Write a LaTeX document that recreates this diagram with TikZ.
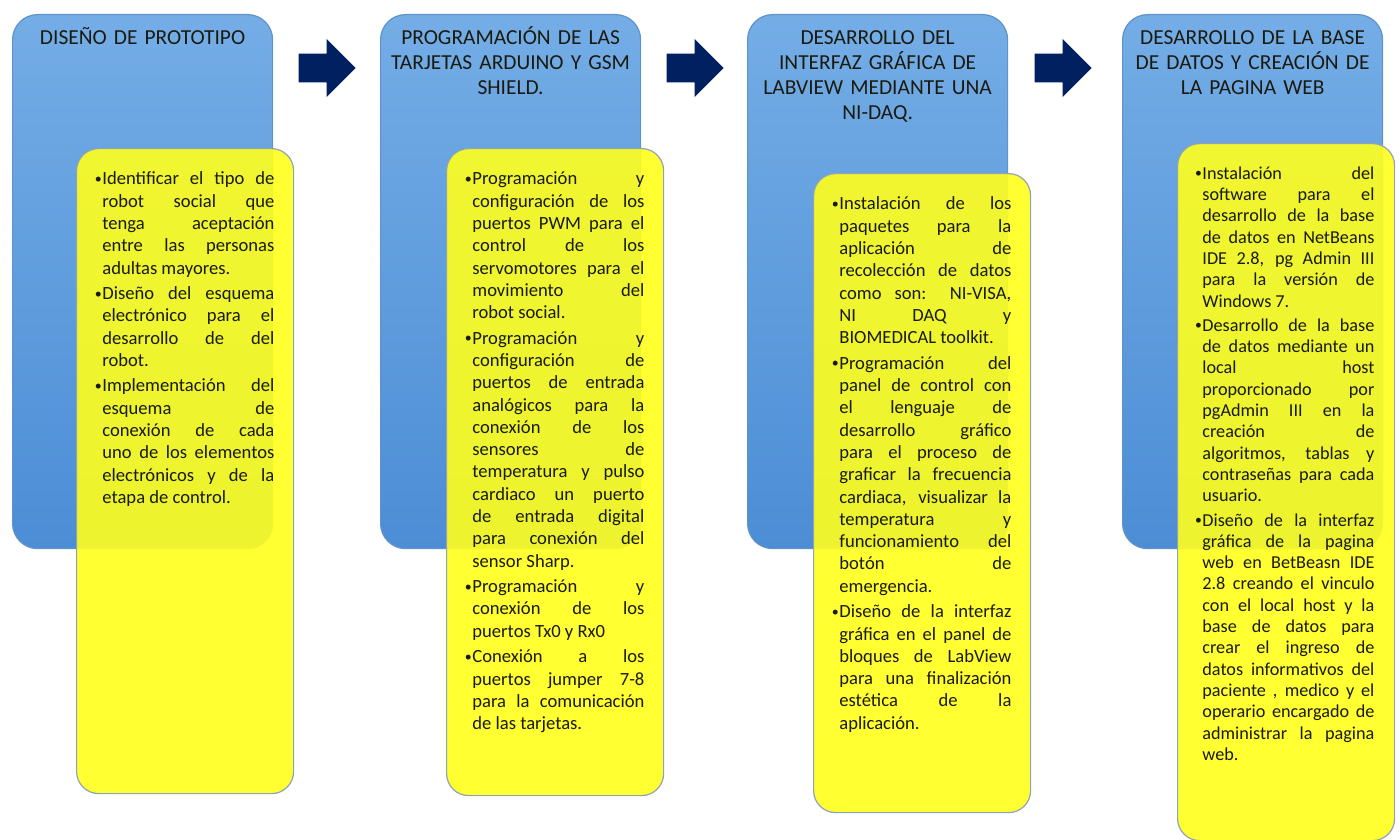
\documentclass[tikz,border=0pt]{standalone}
\usepackage{fontspec}
\setmainfont{Carlito}
\usetikzlibrary{positioning}
\usetikzlibrary{calc}
\usetikzlibrary{shapes.arrows}

\definecolor{fasetop}{HTML}{74ADE6}
\definecolor{fasebot}{HTML}{4C8DD5}
\definecolor{faseedge}{HTML}{5F93C9}
\definecolor{notafill}{HTML}{FFFF1C}
\definecolor{notaedge}{HTML}{8FA3B8}
\definecolor{navy}{HTML}{002060}
\definecolor{tinta}{HTML}{1A1A10}

\hbadness=10000
% line break that keeps the justification
\newcommand{\salto}{\linebreak}
\newcommand{\punto}{\par\noindent\hangindent=4pt\hangafter=1%
	\makebox[4pt][c]{\raisebox{0.7pt}{\scalebox{0.75}{•}}}}

\tikzset{
	fasebox/.style={draw=faseedge, line width=0.6pt, rounded corners=12.5pt,
			top color=fasetop, bottom color=fasebot, inner sep=0pt,
			minimum width=130pt, minimum height=267pt, anchor=north west},
	titulo/.style={text width=120pt, align=center, inner sep=0pt, text=tinta,
			font=\fontsize{10.7}{12.5}\selectfont},
	notabox/.style={draw=notaedge, line width=0.6pt, rounded corners=11pt,
			fill=notafill, fill opacity=0.9, inner sep=0pt,
			minimum width=108.5pt, anchor=north west},
	notatexto/.style={text width=90pt, align=justify, inner sep=0pt, text=tinta,
			font=\fontsize{9.3}{11.15}\selectfont,
			execute at begin node={\setlength{\parskip}{1.6pt}}},
	flecha/.style={single arrow, fill=navy, draw=none, inner sep=7pt, anchor=tail,
			minimum height=28.5pt, minimum width=29pt,
			single arrow head extend=7.25pt, single arrow head indent=0pt}
}

\begin{document}
\begin{tikzpicture}[x=0.5pt, y=-0.5pt]
	\useasboundingbox (0,0) rectangle (1400,839);

	% phases
	\node[fasebox] (fase1) at (12,14) {};
	\node[fasebox] (fase2) at (380,14) {};
	\node[fasebox] (fase3) at (747,14) {};
	\node[fasebox] (fase4) at (1122,14) {};

	\node[titulo, below=6.25pt of fase1.north] (tit1) {\rule{0pt}{9pt}DISEÑO DE PROTOTIPO};
	\node[titulo, below=6.25pt of fase2.north] (tit2) {\rule{0pt}{9pt}PROGRAMACIÓN DE LAS\\ TARJETAS ARDUINO Y GSM\\ SHIELD.};
	\node[titulo, below=6.25pt of fase3.north] (tit3) {\rule{0pt}{9pt}DESARROLLO DEL\\ INTERFAZ GRÁFICA DE\\ LABVIEW MEDIANTE UNA\\ NI-DAQ.};
	\node[titulo, below=6.25pt of fase4.north] (tit4) {\rule{0pt}{9pt}DESARROLLO DE LA BASE\\ DE DATOS Y CREACIÓN DE\\ LA PAGINA WEB};

	% arrows between phases
	\node[flecha] (flecha1) at ($(fase1.north east)+(25,54)$) {};
	\node[flecha] (flecha2) at ($(fase2.north east)+(25,54)$) {};
	\node[flecha] (flecha3) at ($(fase3.north east)+(26,54)$) {};

	% activity notes
	\node[notabox, minimum height=322.5pt] (nota1) at (76,148) {};
	\node[notabox, minimum height=323.5pt] (nota2) at (446,148) {};
	\node[notabox, minimum height=319.5pt] (nota3) at (813,173) {};
	\node[notabox, minimum height=348.5pt] (nota4) at (1177,143) {};

	\node[notatexto, anchor=north west, below right=5.5pt and 9pt of nota1.north west] (txt1) {%
		\punto Identificar el tipo de\salto robot social que\salto tenga aceptación\salto entre las personas\salto adultas mayores.
		\punto Diseño del esquema\salto electrónico para el\salto desarrollo de del\salto robot.
		\punto Implementación del\salto esquema de\salto conexión de cada\salto uno de los elementos\salto electrónicos y de la\salto etapa de control.\par};

	\node[notatexto, anchor=north west, below right=5.5pt and 9pt of nota2.north west] (txt2) {%
		\punto Programación y\salto configuración de los\salto puertos PWM para el\salto control de los\salto servomotores para el\salto movimiento del\salto robot social.
		\punto Programación y\salto configuración de\salto puertos de entrada\salto analógicos para la\salto conexión de los\salto sensores de\salto temperatura y pulso\salto cardiaco un puerto\salto de entrada digital\salto para conexión del\salto sensor Sharp.
		\punto Programación y\salto conexión de los\salto puertos Tx0 y Rx0
		\punto Conexión a los\salto puertos jumper 7-8\salto para la comunicación\salto de las tarjetas.\par};

	\node[notatexto, anchor=north west, below right=5.5pt and 9pt of nota3.north west] (txt3) {%
		\punto Instalación de los\salto paquetes para la\salto aplicación de\salto recolección de datos\salto como son: NI-VISA,\salto NI DAQ y\salto BIOMEDICAL toolkit.
		\punto Programación del\salto panel de control con\salto el lenguaje de\salto desarrollo gráfico\salto para el proceso de\salto graficar la frecuencia\salto cardiaca, visualizar la\salto temperatura y\salto funcionamiento del\salto botón de\salto emergencia.
		\punto Diseño de la interfaz\salto gráfica en el panel de\salto bloques de LabView\salto para una finalización\salto estética de la\salto aplicación.\par};

	% the last note is set a little tighter
	\node[notatexto, font=\fontsize{9.1}{10.65}\selectfont,
		execute at begin node={\setlength{\parskip}{1.5pt}},
		anchor=north west, below right=5.8pt and 8.5pt of nota4.north west] (txt4) {%
		\punto Instalación del\salto software para el\salto desarrollo de la base\salto de datos en NetBeans\salto IDE 2.8, pg Admin III\salto para la versión de\salto Windows 7.
		\punto Desarrollo de la base\salto de datos mediante un\salto local host\salto proporcionado por\salto pgAdmin III en la\salto creación de\salto algoritmos, tablas y\salto contraseñas para cada\salto usuario.
		\punto Diseño de la interfaz\salto gráfica de la pagina\salto web en BetBeasn IDE\salto 2.8 creando el vinculo\salto con el local host y la\salto base de datos para\salto crear el ingreso de\salto datos informativos del\salto paciente , medico y el\salto operario encargado de\salto administrar la pagina\salto web.\par};
\end{tikzpicture}
\end{document}
